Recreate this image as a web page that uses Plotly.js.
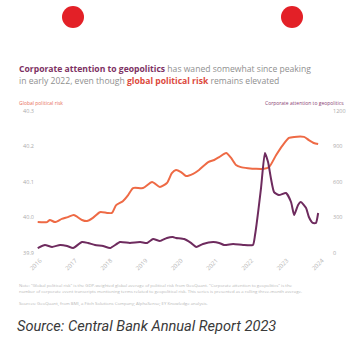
<!DOCTYPE html>
<html>
<head>
<meta charset="utf-8">
<script src="https://cdn.plot.ly/plotly-3.0.1.min.js"></script>
<style>
html,body{margin:0;padding:0;background:#fff;}
#chart{width:352px;height:338px;}
</style>
</head>
<body>
<div id="chart"></div>
<script>
// Global political risk (left axis)
const riskDates = ["2015-12-08","2016-03-14","2016-04-12","2016-06-06","2016-08-14","2016-10-15","2016-12-16","2017-03-11","2017-05-01","2017-07-02","2017-09-13","2017-11-25","2018-01-15","2018-02-28","2018-05-08","2018-07-02","2018-08-22","2018-12-03","2019-03-07","2019-05-27","2019-08-08","2019-09-28","2019-11-10","2020-01-01","2020-02-21","2020-05-05","2020-07-06","2020-10-09","2020-12-10","2021-01-30","2021-04-13","2021-06-03","2021-07-24","2021-09-13","2021-11-25","2022-02-17","2022-05-09","2022-07-02","2022-09-13","2022-11-21","2023-01-23","2023-03-18","2023-06-28","2023-08-18","2023-10-08","2023-11-22"];
const riskValues = [39.987,39.987,39.993,39.987,39.996,40.001,40.007,39.993,39.990,39.999,40.015,40.013,40.013,40.035,40.046,40.063,40.083,40.083,40.100,40.086,40.097,40.125,40.134,40.128,40.117,40.123,40.134,40.156,40.162,40.170,40.182,40.168,40.148,40.142,40.139,40.137,40.137,40.142,40.176,40.204,40.224,40.227,40.227,40.218,40.210,40.207];

// Corporate attention to geopolitics (right axis)
const attnDates = ["2015-12-08","2016-02-21","2016-05-05","2016-07-27","2016-10-08","2016-12-09","2017-03-11","2017-05-12","2017-07-24","2017-10-16","2017-12-28","2018-04-09","2018-07-20","2018-11-03","2019-01-15","2019-03-18","2019-05-27","2019-08-08","2019-10-09","2019-11-10","2020-02-03","2020-04-13","2020-06-07","2020-08-15","2020-11-29","2021-01-30","2021-03-22","2021-06-25","2021-10-05","2022-01-15","2022-02-06","2022-04-09","2022-05-19","2022-06-21","2022-07-20","2022-08-22","2022-10-12","2022-12-24","2023-02-14","2023-03-18","2023-04-28","2023-05-27","2023-07-20","2023-08-18","2023-09-27","2023-10-30","2023-11-22"];
const attnValues = [42,68,51,68,59,42,93,85,68,59,42,93,85,93,85,118,101,127,135,127,118,85,51,76,93,85,68,76,68,68,152,549,845,769,634,515,490,507,431,321,406,431,380,304,254,254,338];

const yearTicks = ["2016-01-01","2017-01-01","2018-01-01","2019-01-01","2020-01-01","2021-01-01","2022-01-01","2023-01-01","2024-01-01"];
const yearLabels = ["2016","2017","2018","2019","2020","2021","2022","2023","2024"];
const leftTicks = [39.9,40.0,40.1,40.2,40.3];
const leftLabels = ["39.9","40.0","40.1","40.2","40.3"];
const rightTicks = [0,300,600,900,1200];
const rightLabels = ["0","300","600","900","1200"];

const titleLine1 = "<b><span style='color:#7d3163'>Corporate attention to geopolitics</span></b> has waned somewhat since peaking";
const titleLine2 = "in early 2022, even though <b><span style='color:#dc4a3c'>global political risk</span></b> remains elevated";
const noteLine1 = "Note: \"Global political risk\" is the GDP-weighted global average of political risk from GeoQuant. \"Corporate attention to geopolitics\" is the";
const noteLine2 = "number of corporate event transcripts mentioning terms related to geopolitical risk. This series is presented as a rolling three-month average.";
const sourceLine = "Sources: GeoQuant, from BMI, a Fitch Solutions Company; AlphaSense; EY Knowledge analysis.";
const caption = "Source: Central Bank Annual Report 2023";

const L = 35, R = 27, T = 111, B = 85;
const PW = 352 - L - R, PH = 338 - T - B;
const px = x => (x - L) / PW;
const py = y => (338 - B - y) / PH;

const traces = [
  {x: riskDates, y: riskValues, type: 'scatter', mode: 'lines', yaxis: 'y',
   line: {color: '#ee6a45', width: 2, shape: 'spline', smoothing: 0.6}, hoverinfo: 'skip'},
  {x: attnDates, y: attnValues, type: 'scatter', mode: 'lines', yaxis: 'y2',
   line: {color: '#6e2b5e', width: 2, shape: 'spline', smoothing: 0.5}, hoverinfo: 'skip'}
];

const ann = (x, y, text, size, color, xanchor, extra) => Object.assign({
  xref: 'paper', yref: 'paper', x: px(x), y: py(y), text: text, showarrow: false,
  xanchor: xanchor || 'left', yanchor: 'middle',
  font: {family: 'Open Sans, sans-serif', size: size, color: color}
}, extra || {});

const layout = {
  width: 352, height: 338,
  margin: {l: L, r: R, t: T, b: B, pad: 0},
  paper_bgcolor: '#ffffff', plot_bgcolor: '#ffffff',
  showlegend: false,
  font: {family: 'Open Sans, sans-serif', color: '#aaaaaa', size: 6},
  xaxis: {
    type: 'date', range: ['2015-11-10', '2024-02-01'],
    tickvals: yearTicks, ticktext: yearLabels, tickangle: -45,
    showgrid: false, zeroline: false, showline: false, ticks: '',
    tickfont: {size: 6, color: '#b5b5b5'}, ticklabelstandoff: 2
  },
  yaxis: {
    range: [39.9, 40.3], tickvals: leftTicks, ticktext: leftLabels,
    showgrid: false, zeroline: false, showline: false, ticks: '',
    tickfont: {size: 5.5, color: '#aaaaaa'}
  },
  yaxis2: {
    range: [0, 1200], tickvals: rightTicks, ticktext: rightLabels,
    overlaying: 'y', side: 'right',
    showgrid: false, zeroline: false, showline: false, ticks: '',
    tickfont: {size: 5.5, color: '#aaaaaa'}, ticklabelstandoff: 7
  },
  shapes: [
    {type: 'circle', xref: 'paper', yref: 'paper', x0: px(62), x1: px(84), y0: py(28), y1: py(6),
     fillcolor: '#e32027', line: {width: 0}},
    {type: 'circle', xref: 'paper', yref: 'paper', x0: px(281), x1: px(303), y0: py(28), y1: py(6),
     fillcolor: '#e32027', line: {width: 0}}
  ],
  annotations: [
    ann(17, 69, titleLine1, 8.6, '#8f8f8f'),
    ann(17, 81, titleLine2, 8.6, '#8f8f8f'),
    ann(17, 103, 'Global political risk', 5, '#e8705a'),
    ann(346, 103, 'Corporate attention to geopolitics', 5, '#8a4274', 'right'),
    ann(17, 285, noteLine1, 4.3, '#b8b8b8'),
    ann(17, 291, noteLine2, 4.3, '#b8b8b8'),
    ann(17, 303, sourceLine, 4.3, '#b8b8b8'),
    ann(15, 326, '<i>' + caption + '</i>', 14.6, '#3a3a3a', 'left', {font: {family: 'Roboto, sans-serif', size: 14.6, color: '#3a3a3a'}})
  ]
};

Plotly.newPlot('chart', traces, layout, {displayModeBar: false, staticPlot: true});
</script>
</body>
</html>
